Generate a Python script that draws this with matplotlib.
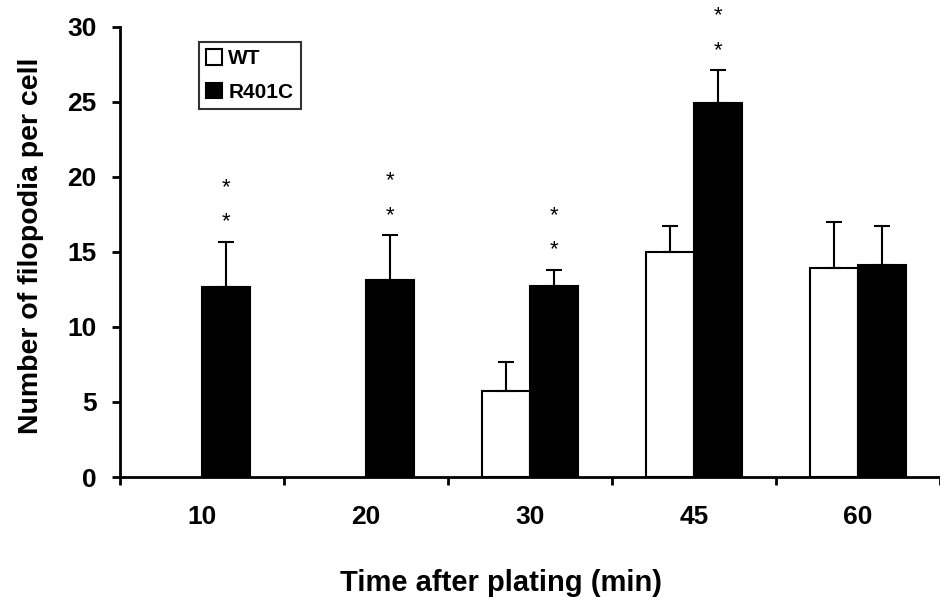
import numpy as np
import matplotlib
matplotlib.use("Agg")
import matplotlib.pyplot as plt

plt.rcParams["font.family"] = ["Liberation Sans", "DejaVu Sans"]
plt.rcParams["font.weight"] = "bold"

times = ["10", "20", "30", "45", "60"]
wt_mean = [np.nan, np.nan, 5.7, 15.0, 13.95]
wt_err = [np.nan, np.nan, 1.95, 1.7, 3.05]
mut_mean = [12.65, 13.1, 12.75, 24.9, 14.15]
mut_err = [3.0, 3.0, 1.05, 2.2, 2.6]
stars = [True, True, True, True, False]

x = np.arange(len(times))
width = 0.295

fig = plt.figure(figsize=(9.4, 5.97), dpi=100)
ax = fig.add_axes([0.1277, 0.201, 0.8723, 0.7538])

err_style = dict(ecolor="black", elinewidth=1.5, capsize=6, capthick=1.5)
wt_ok = ~np.isnan(wt_mean)
ax.bar(x[wt_ok] - width / 2, np.array(wt_mean)[wt_ok], width,
       color="white", edgecolor="black", linewidth=1.5, label="WT",
       yerr=[np.zeros(wt_ok.sum()), np.array(wt_err)[wt_ok]], error_kw=err_style)
ax.bar(x + width / 2, mut_mean, width,
       color="black", edgecolor="black", linewidth=1.5, label="R401C",
       yerr=[np.zeros(len(x)), mut_err], error_kw=err_style)

# significance marks above the mutant bars
for xi, m, e, s in zip(x, mut_mean, mut_err, stars):
    if s:
        top = m + e
        ax.text(xi + width / 2, top + 1.35, "*", ha="center", va="center", fontsize=16, fontweight="normal")
        ax.text(xi + width / 2, top + 3.65, "*", ha="center", va="center", fontsize=16, fontweight="normal")

ax.set_ylim(0, 30)
ax.set_yticks(np.arange(0, 31, 5))
ax.set_xlim(-0.5, 4.44)
ax.set_xticks(np.arange(-0.5, 5, 1.0))
ax.set_xticklabels([])
ax.set_xticks(x, minor=True)
ax.set_xticklabels(times, minor=True)
ax.tick_params(axis="x", which="major", direction="out", length=6, width=2)
ax.tick_params(axis="x", which="minor", length=0, pad=20, labelsize=19)
ax.tick_params(axis="y", direction="out", length=6, width=2, pad=11, labelsize=19)

for side in ["top", "right"]:
    ax.spines[side].set_visible(False)
for side in ["left", "bottom"]:
    ax.spines[side].set_linewidth(2)

ax.set_xlabel("Time after plating (min)", fontsize=21, fontweight="bold")
ax.xaxis.set_label_coords(0.4646, -0.205)
ax.set_ylabel("Number of filopodia per cell", fontsize=20.5, fontweight="bold")
ax.yaxis.set_label_coords(-0.093, 0.513)

leg = ax.legend(loc="upper left", bbox_to_anchor=(0.0963, 0.9667), fontsize=15,
                frameon=True, fancybox=False, edgecolor="black",
                handlelength=0.75, handleheight=0.75, handletextpad=0.3,
                borderpad=0.35, borderaxespad=0, labelspacing=0.7)
leg.get_frame().set_linewidth(1.5)

fig.savefig("out.png", dpi=100)
